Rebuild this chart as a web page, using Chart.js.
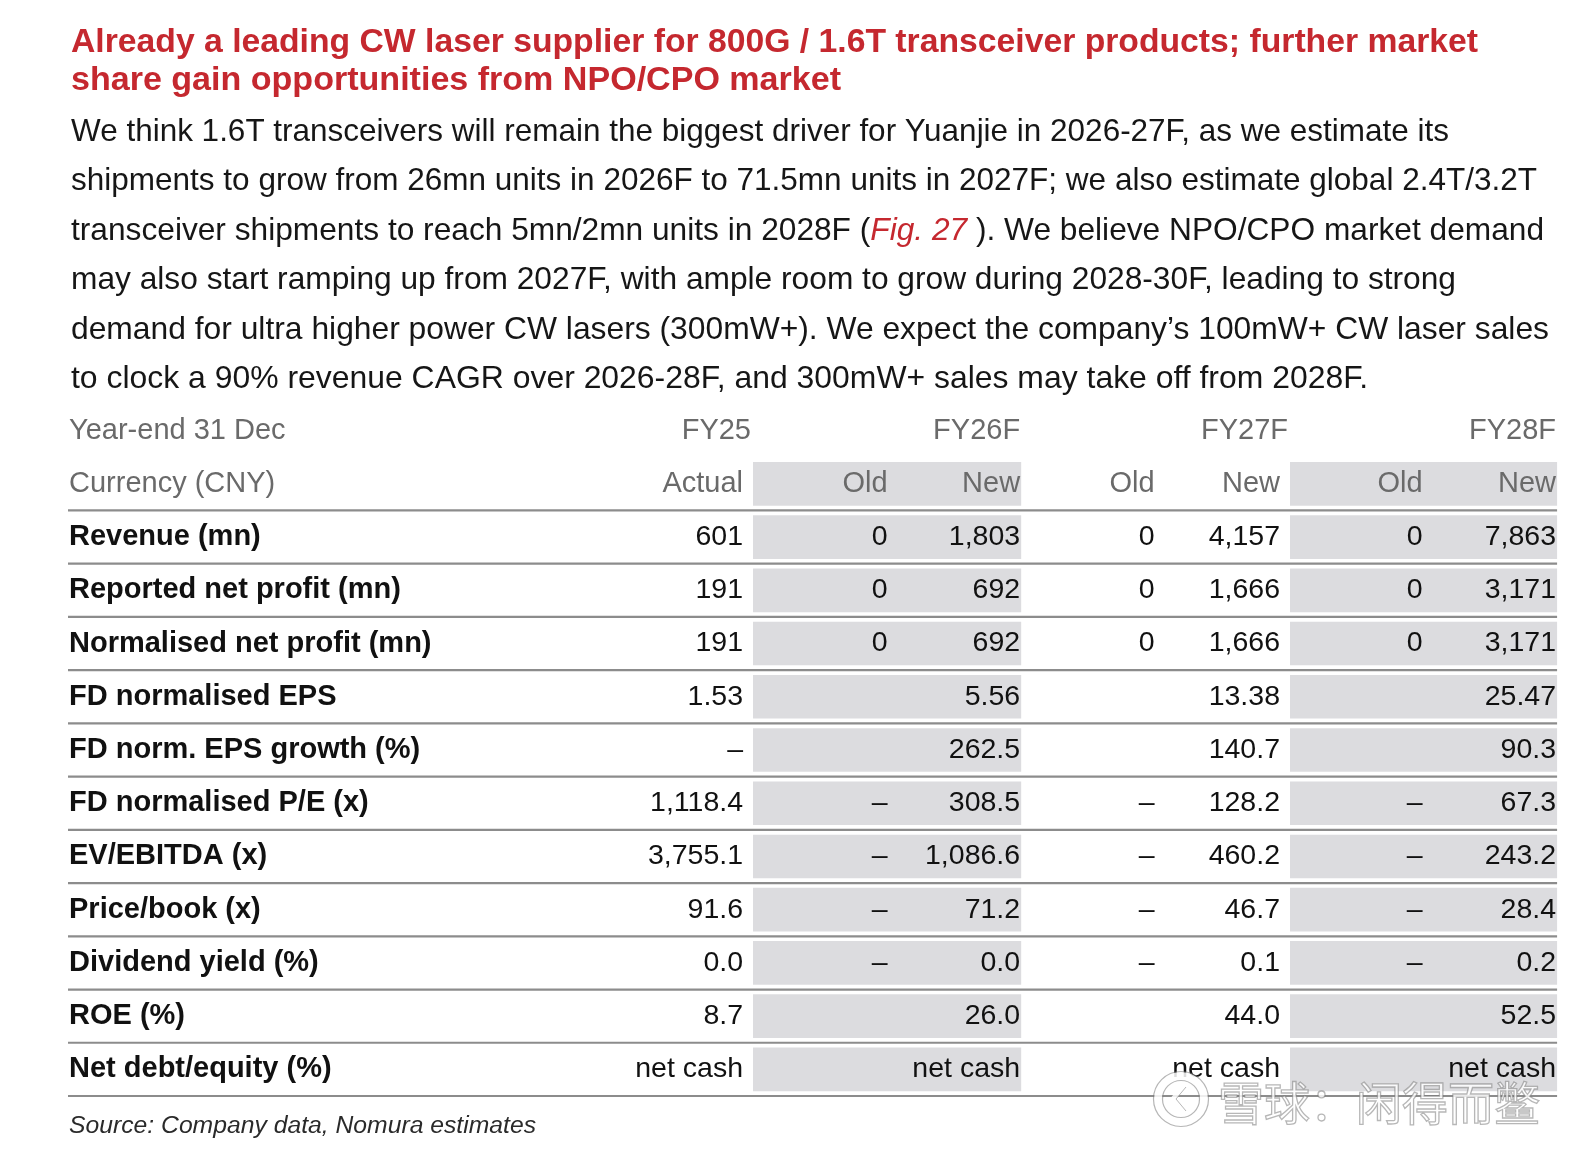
<!DOCTYPE html>
<html>
<head>
<meta charset="utf-8">
<script src="https://cdn.jsdelivr.net/npm/chart.js@4.4.1/dist/chart.umd.min.js"></script>
<style>
html,body{margin:0;padding:0;background:#fff;}
canvas{display:block;}
</style>
</head>
<body>
<canvas id="c" width="1584" height="1152" style="width:1584px;height:1152px"></canvas>
<script>
// ---------------- DATA ----------------
const titleLines = [
  "Already a leading CW laser supplier for 800G / 1.6T transceiver products; further market",
  "share gain opportunities from NPO/CPO market"
];
const paragraphLines = [
  ["We think 1.6T transceivers will remain the biggest driver for Yuanjie in 2026-27F, as we estimate its"],
  ["shipments to grow from 26mn units in 2026F to 71.5mn units in 2027F; we also estimate global 2.4T/3.2T"],
  ["transceiver shipments to reach 5mn/2mn units in 2028F (", {fig: "Fig. 27"}, " ). We believe NPO/CPO market demand"],
  ["may also start ramping up from 2027F, with ample room to grow during 2028-30F, leading to strong"],
  ["demand for ultra higher power CW lasers (300mW+). We expect the company\u2019s 100mW+ CW laser sales"],
  ["to clock a 90% revenue CAGR over 2026-28F, and 300mW+ sales may take off from 2028F."]
];
const headerRowLabels = ["Year-end 31 Dec", "Currency (CNY)"];
const fyLabels = ["FY25", "FY26F", "FY27F", "FY28F"];
const subHeaders = ["Actual", "Old", "New", "Old", "New", "Old", "New"];
const metrics = [
  "Revenue (mn)", "Reported net profit (mn)", "Normalised net profit (mn)", "FD normalised EPS",
  "FD norm. EPS growth (%)", "FD normalised P/E (x)", "EV/EBITDA (x)", "Price/book (x)",
  "Dividend yield (%)", "ROE (%)", "Net debt/equity (%)"
];
const fy25Actual = ["601", "191", "191", "1.53", "\u2013", "1,118.4", "3,755.1", "91.6", "0.0", "8.7", "net cash"];
const fy26Old = ["0", "0", "0", "", "", "\u2013", "\u2013", "\u2013", "\u2013", "", ""];
const fy26New = ["1,803", "692", "692", "5.56", "262.5", "308.5", "1,086.6", "71.2", "0.0", "26.0", "net cash"];
const fy27Old = ["0", "0", "0", "", "", "\u2013", "\u2013", "\u2013", "\u2013", "", ""];
const fy27New = ["4,157", "1,666", "1,666", "13.38", "140.7", "128.2", "460.2", "46.7", "0.1", "44.0", "net cash"];
const fy28Old = ["0", "0", "0", "", "", "\u2013", "\u2013", "\u2013", "\u2013", "", ""];
const fy28New = ["7,863", "3,171", "3,171", "25.47", "90.3", "67.3", "243.2", "28.4", "0.2", "52.5", "net cash"];
const sourceText = "Source: Company data, Nomura estimates";
const watermarkText = "\u96EA\u7403\uFF1A\u95F2\u5F97\u800C\u9CD6";

// ---------------- LAYOUT / STYLE ----------------
const columns = [fy25Actual, fy26Old, fy26New, fy27Old, fy27New, fy28Old, fy28New];
const shadedGroups = [false, true, false, true]; // FY25, FY26F, FY27F, FY28F
const colShift = [0, 0.067, 0.045, 0.037, -0.037, 0.015, 0]; // column alignment tweaks (axis units)
const FONT = "'Liberation Sans', Arial, Helvetica, sans-serif";
const RED = "#c5282f";
const SHADE = "#dcdcdf";
const SHADE_L = 0.074, SHADE_R = 0.008;
const titleFit = [1407, 770];
const titleBase = [52, 90];
const paraFit = [1378, 1466, 1473, 1385, 1478, 1297];
const paraBase = [141, 190, 240, 289, 339, 388];

const rowLabels = headerRowLabels.concat(metrics);

function colPos(k) { return k + colShift[k]; }
function groupColumn(g) { return g === 0 ? 0 : 2 * g; }
function shadeData(g) {
  const last = groupColumn(g);
  return rowLabels.map((_, r) => r === 0 ? null : [colPos(last - 2) + SHADE_L, colPos(last) + SHADE_R]);
}
const datasets = [];
shadedGroups.forEach((s, g) => {
  if (!s) return;
  datasets.push({
    label: fyLabels[g],
    data: shadeData(g),
    backgroundColor: SHADE,
    borderWidth: 0,
    grouped: false,
    barPercentage: 0.82,
    categoryPercentage: 1
  });
});

function drawFitted(c, segs, x, baseline, target, size, baseStyle) {
  const parts = segs.map(s => typeof s === 'string'
    ? {text: s, font: baseStyle.weight + ' ' + size + 'px ' + FONT, color: baseStyle.color}
    : {text: s.fig, font: 'italic ' + size + 'px ' + FONT, color: RED});
  let total = 0;
  parts.forEach(p => { c.font = p.font; p.w = c.measureText(p.text).width; total += p.w; });
  const k = target / total;
  c.save();
  c.translate(x, baseline);
  c.scale(k, 1);
  c.textAlign = 'left';
  c.textBaseline = 'alphabetic';
  let cx = 0;
  parts.forEach(p => { c.font = p.font; c.fillStyle = p.color; c.fillText(p.text, cx, 0); cx += p.w; });
  c.restore();
}

const tablePlugin = {
  id: 'tablePlugin',
  beforeDraw(chart) {
    const c = chart.ctx;
    c.save(); c.fillStyle = '#fff'; c.fillRect(0, 0, chart.width, chart.height); c.restore();
  },
  afterDatasetsDraw(chart) {
    const c = chart.ctx, x = chart.scales.x, y = chart.scales.y;
    const pitch = y.getPixelForValue(1) - y.getPixelForValue(0);
    c.save();
    // separators
    c.strokeStyle = '#8c8c8c';
    c.lineWidth = 2.2;
    const xr = x.getPixelForValue(colPos(6) + SHADE_R);
    for (let r = 1; r < rowLabels.length; r++) {
      const yy = y.getPixelForValue(r) + pitch / 2;
      c.beginPath(); c.moveTo(y.left - 1, yy); c.lineTo(xr, yy); c.stroke();
    }
    c.textBaseline = 'middle';
    c.textAlign = 'right';
    c.font = '29px ' + FONT;
    c.fillStyle = '#6a6a6a';
    fyLabels.forEach((l, g) => {
      const off = shadedGroups[g] ? 0 : 8;
      c.fillText(l, x.getPixelForValue(colPos(groupColumn(g))) + off, y.getPixelForValue(0));
    });
    subHeaders.forEach((l, k) => c.fillText(l, x.getPixelForValue(colPos(k)), y.getPixelForValue(1)));
    c.font = '28.5px ' + FONT;
    c.fillStyle = '#111';
    columns.forEach((col, k) => col.forEach((v, r) => {
      if (v) c.fillText(v, x.getPixelForValue(colPos(k)), y.getPixelForValue(r + 2));
    }));
    c.restore();
  },
  afterDraw(chart) {
    const c = chart.ctx;
    c.save();
    titleLines.forEach((t, i) => drawFitted(c, [t], 71, titleBase[i], titleFit[i], 33, {weight: 'bold', color: RED}));
    paragraphLines.forEach((segs, i) => drawFitted(c, segs, 71, paraBase[i], paraFit[i], 31.5, {weight: 'normal', color: '#161616'}));
    drawFitted(c, [sourceText], 69, 1133, 467, 23, {weight: 'italic', color: '#2a2a2a'});
    // watermark
    const cx = 1181, cy = 1099;
    c.globalAlpha = 0.9;
    c.beginPath(); c.arc(cx, cy, 23, 0, Math.PI * 2); c.lineWidth = 8; c.strokeStyle = 'rgba(255,255,255,0.95)'; c.stroke();
    c.lineWidth = 1.2; c.strokeStyle = 'rgba(120,120,120,0.6)';
    c.beginPath(); c.arc(cx, cy, 27.5, 0, Math.PI * 2); c.stroke();
    c.beginPath(); c.arc(cx, cy, 18.5, 0, Math.PI * 2); c.stroke();
    c.lineWidth = 5; c.strokeStyle = 'rgba(255,255,255,0.95)';
    c.beginPath(); c.moveTo(cx + 2, cy - 12); c.lineTo(cx - 8, cy); c.lineTo(cx + 2, cy + 12); c.stroke();
    c.lineWidth = 1; c.strokeStyle = 'rgba(120,120,120,0.6)';
    c.beginPath(); c.moveTo(cx + 5, cy - 12); c.lineTo(cx - 5, cy); c.lineTo(cx + 5, cy + 12); c.stroke();
    c.font = "46px 'Noto Sans CJK SC'";
    c.textAlign = 'left'; c.textBaseline = 'alphabetic';
    c.fillStyle = 'rgba(255,255,255,0.92)';
    c.fillText(watermarkText, 1218, 1120);
    c.strokeStyle = 'rgba(110,110,110,0.55)';
    c.lineWidth = 1.3;
    c.strokeText(watermarkText, 1218, 1120);
    c.restore();
  }
};

new Chart(document.getElementById('c'), {
  type: 'bar',
  data: { labels: rowLabels, datasets: datasets },
  options: {
    indexAxis: 'y',
    responsive: false,
    animation: false,
    devicePixelRatio: 1,
    layout: { padding: { left: 69, right: 24, top: 404, bottom: 56 } },
    plugins: { legend: { display: false }, tooltip: { enabled: false } },
    scales: {
      x: { type: 'linear', display: false, min: -1.0037, max: 6.0295 },
      y: {
        type: 'category',
        position: 'left',
        grid: { display: false },
        border: { display: false },
        afterFit(s) { s.width = 538; },
        ticks: {
          autoSkip: false,
          crossAlign: 'far',
          padding: 0,
          color: ctx => ctx.index < 2 ? '#6a6a6a' : '#111',
          font: ctx => ({ family: FONT, size: 29, weight: ctx.index < 2 ? 'normal' : 'bold' })
        }
      }
    }
  },
  plugins: [tablePlugin]
});
</script>
</body>
</html>
